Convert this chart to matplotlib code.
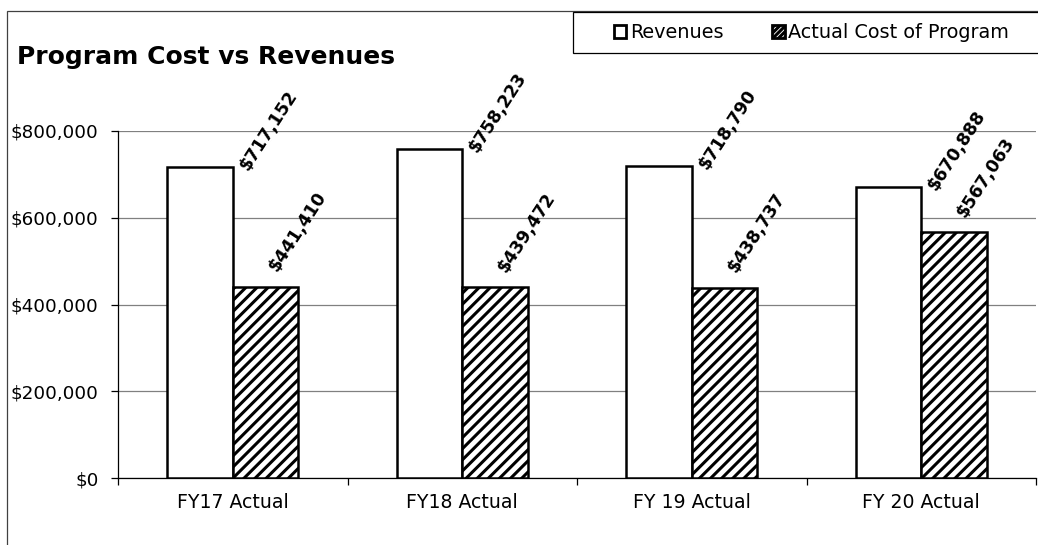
import matplotlib
matplotlib.use("Agg")
import matplotlib.pyplot as plt
from matplotlib.patches import Rectangle, Patch
from matplotlib.ticker import FuncFormatter

categories = ["FY17 Actual", "FY18 Actual", "FY 19 Actual", "FY 20 Actual"]
revenues = [717152, 758223, 718790, 670888]
actual_cost = [441410, 439472, 438737, 567063]
series_names = ["Revenues", "Actual Cost of Program"]
y_ticks = [0, 200000, 400000, 600000, 800000]


def money(v, pos=None):
    return f"${v:,.0f}"


def main() -> None:
    plt.rcParams["font.family"] = ["DejaVu Sans"]
    plt.rcParams["hatch.linewidth"] = 2.2

    W, H = 1038, 545
    fig = plt.figure(figsize=(W / 100, H / 100), dpi=100)
    ax = fig.add_axes([118 / W, 1 - 478 / H, 918 / W, 347 / H])

    # outer chart frame
    fig.patches.append(Rectangle((7 / W, -0.1), 1.1, 1.1 - 11 / H, transform=fig.transFigure,
                                 fill=False, edgecolor="#404040", lw=0.9))

    x = list(range(len(categories)))
    w = 0.285
    ax.bar([i - w / 2 for i in x], revenues, w, color="white", edgecolor="black",
           linewidth=1.8, zorder=3)
    ax.bar([i + w / 2 for i in x], actual_cost, w, color="white", edgecolor="black",
           linewidth=1.8, hatch="///", zorder=3)

    lbl = dict(textcoords="offset pixels", rotation=57, rotation_mode="anchor",
               ha="left", va="baseline", fontsize=12.5, fontweight="bold", zorder=5)
    for i, v in enumerate(revenues):
        ax.annotate(money(v), (i, v), xytext=(15, -4), **lbl)
    for i, v in enumerate(actual_cost):
        ax.annotate(money(v), (i, v), xytext=(44, 14), **lbl)

    ax.set_xlim(-0.5, len(categories) - 0.5)
    ax.set_ylim(0, 800000)
    ax.set_yticks(y_ticks)
    ax.yaxis.set_major_formatter(FuncFormatter(money))
    ax.grid(axis="y", color="#808080", lw=0.9, zorder=0)
    ax.set_axisbelow(True)

    ax.set_xticks([i - 0.5 for i in range(len(categories) + 1)])
    ax.set_xticklabels([])
    ax.set_xticks(x, minor=True)
    ax.set_xticklabels(categories, minor=True)
    ax.tick_params(axis="x", which="major", length=5, width=0.9, direction="out")
    ax.tick_params(axis="x", which="minor", length=0, pad=11, labelsize=13.6)
    ax.tick_params(axis="y", length=5, width=0.9, pad=9, labelsize=13.2)

    for s in ("top", "right"):
        ax.spines[s].set_visible(False)
    for s in ("left", "bottom"):
        ax.spines[s].set_linewidth(0.9)

    fig.text(17 / W, 1 - 64 / H, "Program Cost vs Revenues", fontsize=18,
             fontweight="bold", ha="left", va="baseline")

    # legend box
    fig.patches.append(Rectangle((573 / W, 1 - 53 / H), 1.0, 41 / H, transform=fig.transFigure,
                                 fill=True, facecolor="white", edgecolor="black", lw=0.9, zorder=6))
    handles = [Patch(facecolor="white", edgecolor="black", lw=2.0),
               Patch(facecolor="white", edgecolor="black", lw=2.0, hatch="//////")]
    leg = fig.legend(handles, series_names, loc="center left", ncol=2,
                     bbox_to_anchor=(606 / W, 1 - 33 / H), frameon=False,
                     fontsize=13.9, handlelength=0.65, handleheight=0.65,
                     handletextpad=0.2, columnspacing=2.5, borderaxespad=0)
    leg.set_zorder(7)

    fig.savefig("out.png", dpi=100)


if __name__ == "__main__":
    main()
